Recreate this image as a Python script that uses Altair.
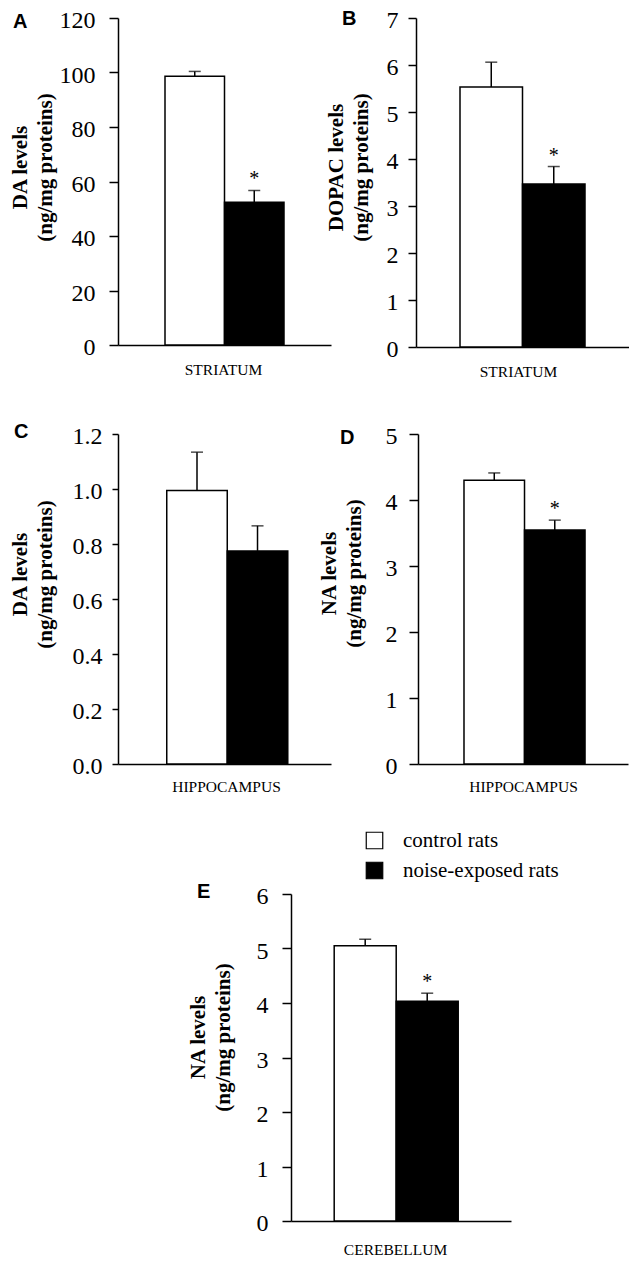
import altair as alt
import pandas as pd

SERIF = "Liberation Serif"
SANS = "Liberation Sans"

groups = ["control rats", "noise-exposed rats"]
panel_ids = ["A", "B", "C", "D", "E"]
regions = ["STRIATUM", "STRIATUM", "HIPPOCAMPUS", "HIPPOCAMPUS", "CEREBELLUM"]
y_titles = [
    ["DA levels", "(ng/mg proteins)"],
    ["DOPAC levels", "(ng/mg proteins)"],
    ["DA levels", "(ng/mg proteins)"],
    ["NA levels", "(ng/mg proteins)"],
    ["NA levels", "(ng/mg proteins)"],
]
means_control = [98.6, 5.53, 0.995, 4.30, 5.05]
means_noise = [52.4, 3.47, 0.775, 3.545, 4.03]
sem_control = [1.8, 0.53, 0.139, 0.11, 0.12]
sem_noise = [4.3, 0.37, 0.091, 0.15, 0.15]
sig_control = ["", "", "", "", ""]
sig_noise = ["*", "*", "", "*", "*"]
y_ticks = [
    [0, 20, 40, 60, 80, 100, 120],
    [0, 1, 2, 3, 4, 5, 6, 7],
    [0.0, 0.2, 0.4, 0.6, 0.8, 1.0, 1.2],
    [0, 1, 2, 3, 4, 5],
    [0, 1, 2, 3, 4, 5, 6],
]
y_formats = ["d", "d", ".1f", "d", "d"]

# layout (pixels): width, height, outer padding, align, tick size, label padding,
# y-title x/y, x-title x/y, letter x/y
layout = {
    "A": dict(w=213, h=327, po=0.79, al=0.5, ts=9, lp=14, tx=-88, ty=149, xx=105, xy=17, lx=-105, ly=3.5),
    "B": dict(w=213, h=329, po=0.704, al=0.5, ts=8, lp=10, tx=-70, ty=149, xx=102, xy=17, lx=-74, ly=1),
    "C": dict(w=213, h=330, po=0.76, al=0.53, ts=6, lp=10, tx=-88, ty=140, xx=108, xy=15, lx=-104, ly=-2.5),
    "D": dict(w=210, h=330, po=0.735, al=0.517, ts=9, lp=12, tx=-79, ty=139, xx=105, xy=15, lx=-78, ly=4),
    "E": dict(w=220, h=327, po=0.774, al=0.45, ts=9, lp=14, tx=-83, ty=143, xx=104, xy=21, lx=-94, ly=-2.5),
}


def panel(i, with_legend=False):
    pid = panel_ids[i]
    L = layout[pid]
    df = pd.DataFrame({
        "group": groups,
        "mean": [means_control[i], means_noise[i]],
        "sem": [sem_control[i], sem_noise[i]],
        "sig": [sig_control[i], sig_noise[i]],
    })
    df["upper"] = df["mean"] + df["sem"]

    xaxis = alt.Axis(
        title=regions[i], labels=False, ticks=False, domain=True,
        domainColor="black", domainWidth=1.5,
        titleFont=SERIF, titleFontSize=15.5, titleFontWeight="normal",
        titleColor="black", titleX=L["xx"], titleY=L["xy"],
        titleBaseline="top", titleAlign="center",
    )
    xs = alt.Scale(domain=groups, paddingInner=0, paddingOuter=L["po"], align=L["al"])
    yaxis = alt.Axis(
        title=y_titles[i], values=y_ticks[i], format=y_formats[i], grid=False,
        domainColor="black", domainWidth=1.5,
        tickColor="black", tickWidth=1.5, tickSize=L["ts"],
        labelFont=SERIF, labelFontSize=24, labelColor="black", labelPadding=L["lp"],
        labelOffset=2.5,
        titleFont=SERIF, titleFontSize=21, titleFontWeight="bold", titleColor="black",
        titleLineHeight=25, titleX=L["tx"], titleY=L["ty"],
    )
    ys = alt.Scale(domain=[0, y_ticks[i][-1]], nice=False, zero=True)

    fill_kwargs = dict(scale=alt.Scale(domain=groups, range=["white", "black"]))
    if with_legend:
        fill_kwargs["legend"] = alt.Legend(
            title=None, orient="none", legendX=73, legendY=-64,
            symbolType="square", symbolSize=272, symbolStrokeColor="black",
            symbolStrokeWidth=1.2, labelFont=SERIF, labelFontSize=21,
            labelColor="black", labelOffset=18, rowPadding=7, padding=0,
        )
    else:
        fill_kwargs["legend"] = None

    base = alt.Chart(df)
    X = alt.X("group:N", scale=xs, axis=xaxis)
    bars = base.mark_bar(stroke="black", strokeWidth=1.5).encode(
        x=X,
        y=alt.Y("mean:Q", scale=ys, axis=yaxis),
        fill=alt.Fill("group:N", **fill_kwargs),
    )
    err = base.mark_rule(color="black", strokeWidth=1.5).encode(
        x=X,
        y=alt.Y("mean:Q", scale=ys, axis=yaxis),
        y2="upper:Q",
    )
    cap = base.mark_tick(color="black", thickness=1.5, size=12).encode(
        x=X,
        y=alt.Y("upper:Q", scale=ys, axis=yaxis),
    )
    star = base.mark_text(font=SERIF, fontSize=20, baseline="alphabetic", dy=-5, color="black").encode(
        x=X,
        y=alt.Y("upper:Q", scale=ys, axis=yaxis),
        text="sig:N",
    )
    letter = alt.Chart(pd.DataFrame({"t": [pid]})).mark_text(
        font=SANS, fontWeight="bold", fontSize=20, align="left", baseline="middle", color="black"
    ).encode(x=alt.value(L["lx"]), y=alt.value(L["ly"]), text="t:N")
    return alt.layer(bars, err, cap, star, letter).properties(width=L["w"], height=L["h"])


spacer = alt.Chart(pd.DataFrame({"v": [0]})).mark_point(opacity=0).encode(
    x=alt.X("v:Q", axis=None), y=alt.Y("v:Q", axis=None)
).properties(width=173, height=10)

row1 = alt.hconcat(panel(0), panel(1), spacing=85, bounds="flush").resolve_scale(fill="independent")
row2 = alt.hconcat(panel(2), panel(3), spacing=87, bounds="flush").resolve_scale(fill="independent")
row3 = alt.hconcat(spacer, panel(4, with_legend=True), spacing=0, bounds="flush").resolve_scale(fill="independent")

top = alt.concat(row1, row2, columns=1, spacing=41, align="each").resolve_scale(fill="independent")
chart = alt.concat(top, row3, columns=1, spacing=35, align="each").resolve_scale(
    fill="independent"
).properties(
    padding={"left": 0, "top": 0, "right": 0, "bottom": 0},
    background="white",
).configure_view(strokeWidth=0)

chart.save("out.html", embed_options={"renderer": "svg", "actions": False})
